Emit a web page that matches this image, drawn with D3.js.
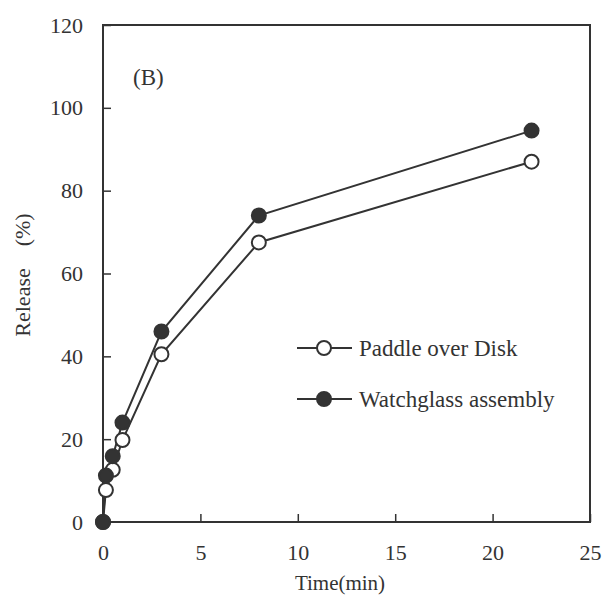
<!DOCTYPE html>
<html><head><meta charset="utf-8">
<script src="https://cdn.jsdelivr.net/npm/d3@7"></script>
<style>body{margin:0;background:#fff}svg text{font-family:"Liberation Serif","Times New Roman",serif;fill:#333}</style>
</head><body>
<svg id="c" width="605" height="601"></svg>
<script>
const times = [0, 0.15, 0.5, 1, 3, 8, 22];
const paddleOverDisk = [0, 7.7, 12.6, 19.8, 40.5, 67.5, 87];
const watchglass = [0, 11.2, 15.9, 24, 46, 74, 94.5];
const xTicks = [0, 5, 10, 15, 20, 25];
const yTicks = [0, 20, 40, 60, 80, 100, 120];
const seriesNames = ["Paddle over Disk", "Watchglass assembly"];

const svg = d3.select("#c");
const L = 103, R = 590, T = 25, B = 522;
const x = d3.scaleLinear().domain([0, 25]).range([L, R]);
const y = d3.scaleLinear().domain([0, 120]).range([B, T]);
const ink = "#333";

svg.append("rect").attr("x", L).attr("y", T).attr("width", R - L).attr("height", B - T)
  .attr("fill", "none").attr("stroke", ink).attr("stroke-width", 2);

const yAxis = d3.axisLeft(y).tickValues(yTicks).tickSize(-8).tickPadding(20).tickFormat(d3.format("d"));
const gy = svg.append("g").attr("transform", `translate(${L},0)`).call(yAxis);
const xAxis = d3.axisBottom(x).tickValues(xTicks).tickSize(-8).tickPadding(22).tickFormat(d3.format("d"));
const gx = svg.append("g").attr("transform", `translate(0,${B})`).call(xAxis);
[gx, gy].forEach(g => {
  g.select(".domain").remove();
  g.selectAll(".tick line").attr("stroke", ink).attr("stroke-width", 1.5);
  g.selectAll(".tick text").attr("font-size", 22).attr("fill", ink);
});

svg.append("text").attr("x", 340).attr("y", 590).attr("text-anchor", "middle")
  .attr("font-size", 21).text("Time(min)");
svg.append("text").attr("transform", "translate(30,275) rotate(-90)").attr("text-anchor", "middle")
  .attr("font-size", 22).text("Release\u3000(%)");
svg.append("text").attr("x", 133).attr("y", 85).attr("font-size", 23).text("(B)");

const data = [
  { name: seriesNames[0], vals: paddleOverDisk, fill: "#fff" },
  { name: seriesNames[1], vals: watchglass, fill: "#333" }
];
const line = d3.line().x((d, i) => x(times[i])).y(d => y(d));
data.forEach(s => {
  svg.append("path").datum(s.vals).attr("d", line).attr("fill", "none")
    .attr("stroke", ink).attr("stroke-width", 2);
});
data.forEach(s => {
  svg.append("g").selectAll("circle").data(s.vals).join("circle")
    .attr("cx", (d, i) => x(times[i])).attr("cy", d => y(d)).attr("r", 7)
    .attr("fill", s.fill).attr("stroke", ink).attr("stroke-width", 2);
});

const legY = [348, 399];
data.forEach((s, i) => {
  const g = svg.append("g");
  g.append("line").attr("x1", 297).attr("x2", 352).attr("y1", legY[i]).attr("y2", legY[i])
    .attr("stroke", ink).attr("stroke-width", 2);
  g.append("circle").attr("cx", 324).attr("cy", legY[i]).attr("r", 7)
    .attr("fill", s.fill).attr("stroke", ink).attr("stroke-width", 2);
  g.append("text").attr("x", 359).attr("y", legY[i] + 8).attr("font-size", 23).text(s.name);
});
</script>
</body></html>
